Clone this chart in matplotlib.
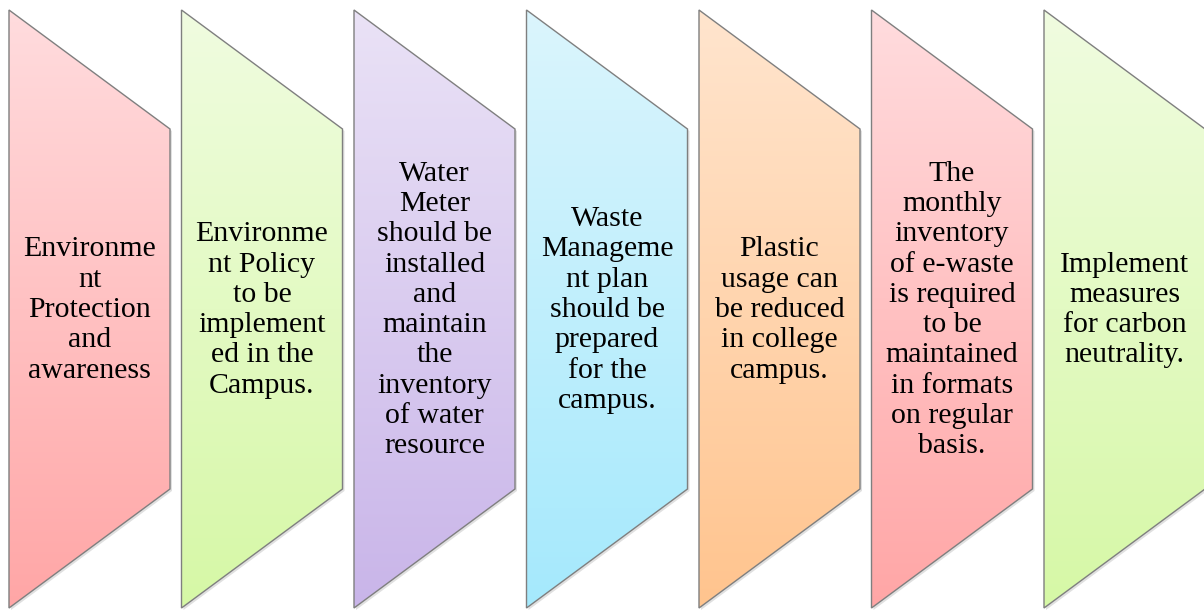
import numpy as np
import matplotlib
matplotlib.use("Agg")
import matplotlib.pyplot as plt
from matplotlib.patches import Polygon
from matplotlib.colors import to_rgb

# steps of the diagram
labels = [
    "Environme\nnt\nProtection\nand\nawareness",
    "Environme\nnt Policy\nto be\nimplement\ned in the\nCampus.",
    "Water\nMeter\nshould be\ninstalled\nand\nmaintain\nthe\ninventory\nof water\nresource",
    "Waste\nManageme\nnt plan\nshould be\nprepared\nfor the\ncampus.",
    "Plastic\nusage can\nbe reduced\nin college\ncampus.",
    "The\nmonthly\ninventory\nof e-waste\nis required\nto be\nmaintained\nin formats\non regular\nbasis.",
    "Implement\nmeasures\nfor carbon\nneutrality.",
]
top_colors = ["#FFDCDE", "#F0FCE0", "#EAE2F6", "#DBF5FD", "#FFE5CE", "#FFDCDE", "#F0FCE0"]
bottom_colors = ["#FFA6A6", "#D6F8A6", "#C9B5E9", "#A5E9FC", "#FFC48E", "#FFA6A6", "#D6F8A6"]

W, H = 1204, 610
fig = plt.figure(figsize=(W / 100, H / 100), dpi=100)
ax = fig.add_axes([0, 0, 1, 1])
ax.set_xlim(0, W)
ax.set_ylim(H, 0)
ax.axis("off")

x0, pitch, w = 9, 172.5, 161
top, bot = 10, 608
notch = 119  # vertical drop of the slanted edges

for i, lab in enumerate(labels):
    left = x0 + i * pitch
    right = left + w
    pts = [(left, top), (right, top + notch), (right, bot - notch), (left, bot)]

    # soft shadow
    sh = Polygon([(x + 2, y + 2) for x, y in pts], closed=True,
                 facecolor="#000000", alpha=0.12, edgecolor="none", zorder=1)
    ax.add_patch(sh)

    # vertical gradient fill clipped to the shape
    c1 = np.array(to_rgb(top_colors[i]))
    c2 = np.array(to_rgb(bottom_colors[i]))
    t = np.linspace(0, 1, 256)[:, None]
    grad = (c1 * (1 - t) + c2 * t)[:, None, :]
    im = ax.imshow(grad, extent=(left, right, bot, top), aspect="auto",
                   interpolation="bilinear", zorder=2)
    poly = Polygon(pts, closed=True, facecolor="none", edgecolor="#7f7f7f",
                   linewidth=1.0, zorder=3)
    ax.add_patch(poly)
    im.set_clip_path(poly)

    ax.text((left + right) / 2, (top + bot) / 2 + 1, lab, ha="center", va="center",
            multialignment="center", fontsize=21.5, family="Liberation Serif",
            linespacing=1.215, color="black", zorder=4)

ax.set_xlim(0, W)
ax.set_ylim(H, 0)
fig.savefig("out.png", dpi=100)
